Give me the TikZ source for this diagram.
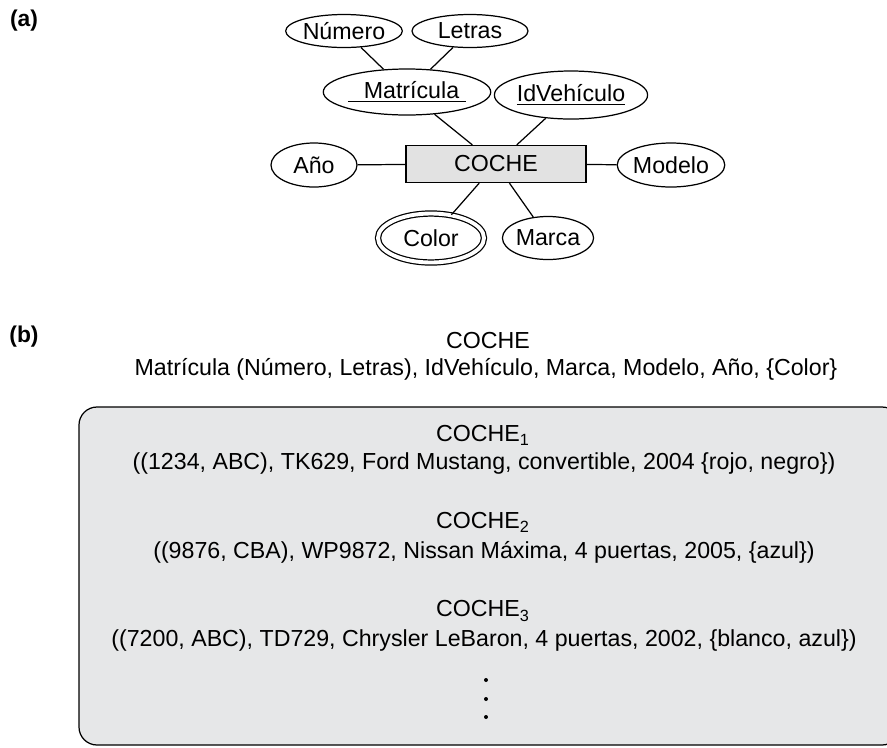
\documentclass[tikz,border=0pt]{standalone}
\usepackage{fontspec}
\setmainfont{Liberation Sans}
\usetikzlibrary{shapes.geometric,positioning}
\definecolor{entitygray}{RGB}{226,226,226}
\definecolor{boxgray}{RGB}{230,231,232}

\begin{document}
\begin{tikzpicture}[
    attr/.style={draw, ellipse, line width=0.7pt, inner sep=0pt, font=\fontsize{13.2}{16}\selectfont},
    entity/.style={draw, rectangle, line width=0.7pt, fill=entitygray, minimum width=3.6cm, minimum height=0.74cm, font=\fontsize{13.2}{16}\selectfont},
    link/.style={line width=0.7pt},
    rowtext/.style={font=\fontsize{13.2}{16}\selectfont},
    partlabel/.style={font=\fontsize{13}{16}\selectfont\bfseries}
]
    \useasboundingbox (0,0) rectangle (17.74,-14.94);

    % Part (a): ER diagram
    \node[partlabel] (labela) at (0.48,-0.42) {(a)};
    \node[entity] (coche) at (9.92,-3.28) {COCHE};
    \node[attr, minimum width=1.92cm, minimum height=0.66cm] (num) at (6.88,-0.62) {Número};
    \node[attr, minimum width=2.32cm, minimum height=0.66cm] (let) at (9.40,-0.62) {Letras};
    \node[attr, minimum width=3.2cm, minimum height=0.92cm] (mat) at (8.14,-1.84) {\underline{\hspace{0.32cm}Matrícula\hspace{0.14cm}}};
    \node[attr, minimum width=2.88cm, minimum height=0.96cm] (idv) at (11.42,-1.90) {\underline{IdVehículo}};
    \node[attr, minimum width=1.72cm, minimum height=0.88cm] (ano) at (6.28,-3.30) {Año};
    \node[attr, minimum width=1.76cm, minimum height=0.88cm] (mod) at (13.42,-3.30) {Modelo};
    \node[attr, double, double distance=2.2pt, minimum width=2.12cm, minimum height=0.98cm] (col) at (8.62,-4.76) {Color};
    \node[attr, minimum width=1.8cm, minimum height=0.86cm] (mar) at (10.96,-4.76) {Marca};

    \draw[link] (num) -- (mat);
    \draw[link] (let) -- (mat);
    \draw[link] (mat) -- (coche);
    \draw[link] (idv) -- (coche);
    \draw[link] (ano) -- (coche);
    \draw[link] (mod) -- (coche);
    \draw[link] (col) -- (coche);
    \draw[link] (mar) -- (coche);

    % Part (b): values
    \node[partlabel] (labelb) at (0.48,-6.74) {(b)};
    \node[rowtext] (head) at (9.76,-6.82) {COCHE};
    \node[rowtext] (schema) at (9.72,-7.38) {Matrícula (Número, Letras), IdVehículo, Marca, Modelo, Año, \{Color\}};

    \draw[line width=0.7pt, fill=boxgray, rounded corners=0.36cm] (1.58,-8.14) rectangle (18.0,-14.90);

    \node[rowtext] (c1) at (9.66,-8.70) {COCHE\textsubscript{1}};
    \node[rowtext] (r1) at (9.68,-9.26) {((1234, ABC), TK629, Ford Mustang, convertible, 2004 \{rojo, negro\})};
    \node[rowtext] (c2) at (9.66,-10.44) {COCHE\textsubscript{2}};
    \node[rowtext] (r2) at (9.68,-11.04) {((9876, CBA), WP9872, Nissan Máxima, 4 puertas, 2005, \{azul\})};
    \node[rowtext] (c3) at (9.66,-12.22) {COCHE\textsubscript{3}};
    \node[rowtext] (r3) at (9.68,-12.80) {((7200, ABC), TD729, Chrysler LeBaron, 4 puertas, 2002, \{blanco, azul\})};

    % more rows
    \foreach \y in {-13.60,-13.98,-14.34}
        \fill (9.72,\y) circle (0.04);
\end{tikzpicture}
\end{document}
